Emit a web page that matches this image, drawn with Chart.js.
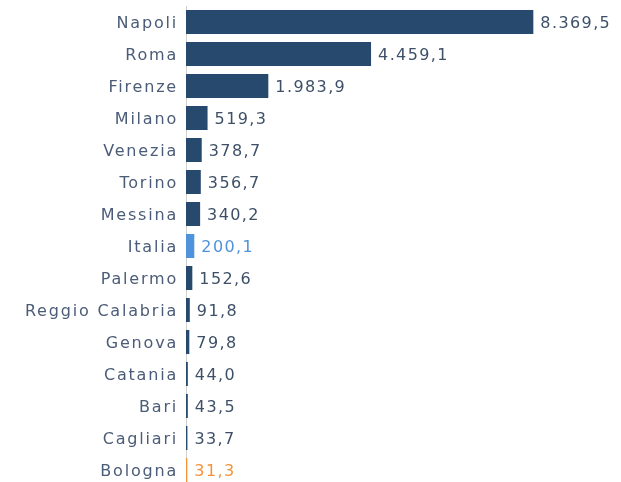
<!DOCTYPE html>
<html>
<head>
<meta charset="utf-8">
<script src="https://cdn.jsdelivr.net/npm/chart.js@4/dist/chart.umd.min.js"></script>
<style>
html,body{margin:0;padding:0;background:#fff;overflow:hidden;width:621px;height:482px;}
#c{position:absolute;left:0;top:0;}
</style>
</head>
<body>
<canvas id="c" width="621" height="490"></canvas>
<script>
const categories = ["Napoli","Roma","Firenze","Milano","Venezia","Torino","Messina","Italia","Palermo","Reggio Calabria","Genova","Catania","Bari","Cagliari","Bologna"];
const values = [8369.5,4459.1,1983.9,519.3,378.7,356.7,340.2,200.1,152.6,91.8,79.8,44.0,43.5,33.7,31.3];

const NAVY = '#26496d', BLUE = '#4f93dc', ORANGE = '#f5933a';
const barColors = categories.map(c => c === 'Italia' ? BLUE : (c === 'Bologna' ? ORANGE : NAVY));
const labelColors = categories.map(c => c === 'Italia' ? '#4f93dc' : (c === 'Bologna' ? '#f5933a' : '#3e5068'));

function fmt(v){
  const parts = v.toFixed(1).split('.');
  const intp = parts[0].replace(/\B(?=(\d{3})+(?!\d))/g, '.');
  return intp + ',' + parts[1];
}

const FONT = '"DejaVu Sans", sans-serif';

const spacing = {
  id: 'spacing',
  beforeDraw(chart){ chart.ctx.letterSpacing = '1.8px'; }
};

const valueLabels = {
  id: 'valueLabels',
  afterDatasetsDraw(chart){
    const ctx = chart.ctx;
    const meta = chart.getDatasetMeta(0);
    ctx.save();
    ctx.letterSpacing = '1.4px';
    ctx.font = '16px ' + FONT;
    ctx.textBaseline = 'middle';
    ctx.textAlign = 'left';
    meta.data.forEach((bar, i) => {
      ctx.fillStyle = labelColors[i];
      ctx.fillText(fmt(values[i]), bar.x + 7, bar.y + 2);
    });
    ctx.restore();
  }
};

new Chart(document.getElementById('c'), {
  type: 'bar',
  data: {
    labels: categories,
    datasets: [{
      data: values,
      backgroundColor: barColors,
      borderWidth: 0,
      categoryPercentage: 1.0,
      barPercentage: 0.75
    }]
  },
  options: {
    indexAxis: 'y',
    responsive: false,
    animation: false,
    layout: { padding: { top: 6, bottom: 4, left: 0, right: 20 } },
    plugins: { legend: { display: false }, tooltip: { enabled: false } },
    scales: {
      x: { display: false, min: 0, max: 10000 },
      y: {
        grid: { display: false, drawTicks: false },
        border: { display: true, color: '#d0d0d0', width: 1 },
        ticks: {
          padding: 8,
          labelOffset: 2,
          color: '#4b5c78',
          font: { family: FONT, size: 16 }
        },
        afterFit(s){ s.width = 186; s.paddingTop = 0; s.paddingBottom = 0; }
      }
    }
  },
  plugins: [spacing, valueLabels]
});
</script>
</body>
</html>
